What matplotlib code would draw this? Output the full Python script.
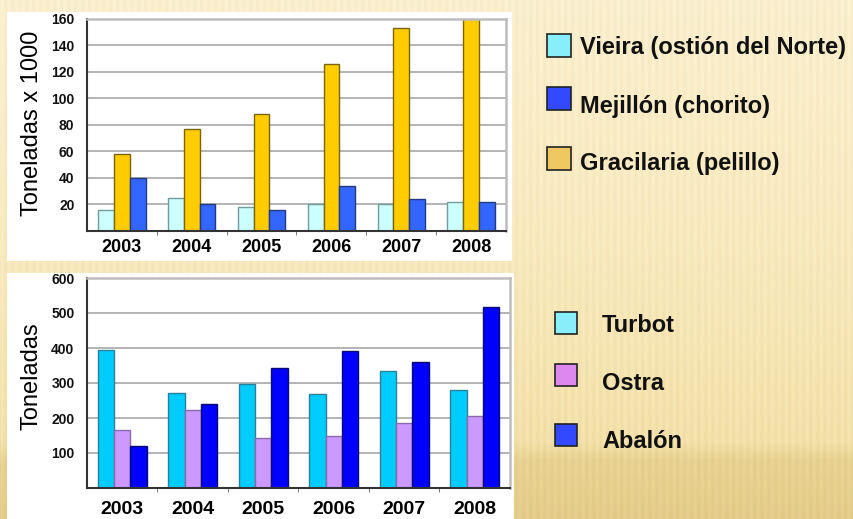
import numpy as np
import matplotlib.pyplot as plt
from matplotlib.patches import Rectangle

years = ["2003", "2004", "2005", "2006", "2007", "2008"]

# grafico superior (toneladas x 1000)
vieira = [16, 25, 18, 20, 20, 22]
gracilaria = [58, 77, 88, 126, 153, 170]
mejillon = [40, 20, 16, 34, 24, 22]

# grafico inferior (toneladas)
turbot = [394, 272, 296, 268, 335, 280]
ostra = [167, 222, 142, 150, 186, 205]
abalon = [119, 241, 343, 391, 359, 517]

top_names = ["Vieira (ostión del Norte)", "Mejillón (chorito)", "Gracilaria (pelillo)"]
top_legend_colors = ["#88eefa", "#3349ff", "#f0c862"]
bot_names = ["Turbot", "Ostra", "Abalón"]
bot_legend_colors = ["#88eefa", "#dd88ee", "#3349ff"]

plt.rcParams['font.family'] = ['Liberation Sans', 'DejaVu Sans']

W, H = 854, 519
fig = plt.figure(figsize=(W / 100, H / 100), dpi=100)


def fx(x):
    return x / W


def fy(y):
    return 1 - y / H


# fondo con degradado y rayas verticales
yy = np.arange(H)[:, None]
xx = np.arange(W)[None, :]
ys = [0, 250, 440, 460, 519]
cols = np.array([[250, 239, 206], [248, 233, 190], [243, 225, 170],
                 [232, 210, 146], [228, 204, 138]], float)
base = np.stack([np.interp(yy[:, 0], ys, cols[:, c]) for c in range(3)], axis=-1)
stripes = 5 * np.sin(2 * np.pi * xx / 7.0)
img = base[:, None, :] + stripes[..., None] * np.array([0.4, 0.7, 1.0])
img = np.clip(img, 0, 255) / 255.0
bg = fig.add_axes([0, 0, 1, 1])
bg.imshow(img, aspect='auto', extent=[0, 1, 0, 1])
bg.axis('off')

# paneles blancos
fig.patches.append(Rectangle((fx(7), fy(261)), fx(505), (261 - 12) / H,
                             transform=fig.transFigure, facecolor='white',
                             edgecolor='none', zorder=1))
fig.patches.append(Rectangle((fx(7), fy(519)), fx(507), (519 - 273) / H,
                             transform=fig.transFigure, facecolor='white',
                             edgecolor='none', zorder=1))


def style_axes(ax, ymax, step):
    x = np.arange(len(years))
    ax.set_xlim(-0.5, len(years) - 0.5)
    ax.set_ylim(0, ymax)
    ax.set_yticks(np.arange(step, ymax + 1, step))
    ax.set_xticks(x)
    ax.set_xticks(x[:-1] + 0.5, minor=True)
    ax.tick_params(axis='y', length=0, pad=9, labelsize=10, labelcolor='#111111')
    ax.tick_params(axis='x', which='major', length=0)
    ax.tick_params(axis='x', which='minor', length=3, color='#666666')
    for lab in ax.get_yticklabels():
        lab.set_fontweight('bold')
    ax.yaxis.grid(True, color='#a8a8a8', lw=1.2)
    ax.set_axisbelow(True)
    ax.spines['left'].set_color('#333333')
    ax.spines['bottom'].set_color('#333333')
    ax.spines['left'].set_linewidth(1.5)
    ax.spines['bottom'].set_linewidth(1.5)
    for s in ['top', 'right']:
        ax.spines[s].set_color('#bdbdbd')
        ax.spines[s].set_linewidth(1.8)
    ax.patch.set_alpha(0)


# grafico superior
ax1 = fig.add_axes([fx(87), fy(231), (506 - 87) / W, (231 - 18.5) / H], zorder=2)
x = np.arange(len(years))
w = 0.226
ax1.bar(x - w, vieira, w, color='#ccffff', edgecolor='#6f9c9c', lw=1)
ax1.bar(x, gracilaria, w, color='#ffcc00', edgecolor='#7a6410', lw=1)
ax1.bar(x + w, mejillon, w, color='#3366ff', edgecolor='#223a80', lw=1)
style_axes(ax1, 160, 20)
ax1.set_xticklabels(years, fontsize=13, fontweight='bold')
ax1.tick_params(axis='x', which='major', pad=6)
fig.text(fx(32), fy(123), "Toneladas x 1000", rotation=90, ha='center',
         va='center', fontsize=17)

# grafico inferior
ax2 = fig.add_axes([fx(87), fy(488), (510 - 87) / W, (488 - 278) / H], zorder=2)
w2 = 0.231
ax2.bar(x - w2, turbot, w2, color='#00ccff', edgecolor='#2a7f99', lw=1)
ax2.bar(x, ostra, w2, color='#cc99ff', edgecolor='#8a6aaa', lw=1)
ax2.bar(x + w2, abalon, w2, color='#0000ff', edgecolor='#0a0a70', lw=1)
style_axes(ax2, 600, 100)
ax2.set_xticklabels(years, fontsize=14, fontweight='bold')
ax2.tick_params(axis='x', which='major', pad=9)
fig.text(fx(32), fy(376), "Toneladas", rotation=90, ha='center',
         va='center', fontsize=17)

# leyendas
top_sq = [34, 87, 147]
top_base = [54, 113, 170]
for name, c, sy, by in zip(top_names, top_legend_colors, top_sq, top_base):
    fig.patches.append(Rectangle((fx(547), fy(sy + 23)), 24 / W, 23 / H,
                                 transform=fig.transFigure, facecolor=c,
                                 edgecolor='#222222', lw=1.2, zorder=3))
    fig.text(fx(580), fy(by), name, fontsize=17, fontweight='bold',
             va='baseline', ha='left', color='#111111')

bot_sq = [312, 364, 424]
bot_base = [332, 390, 448]
for name, c, sy, by in zip(bot_names, bot_legend_colors, bot_sq, bot_base):
    fig.patches.append(Rectangle((fx(555), fy(sy + 22)), 22 / W, 22 / H,
                                 transform=fig.transFigure, facecolor=c,
                                 edgecolor='#222222', lw=1.2, zorder=3))
    fig.text(fx(602), fy(by), name, fontsize=17, fontweight='bold',
             va='baseline', ha='left', color='#111111')

fig.savefig("out.png", dpi=100)
